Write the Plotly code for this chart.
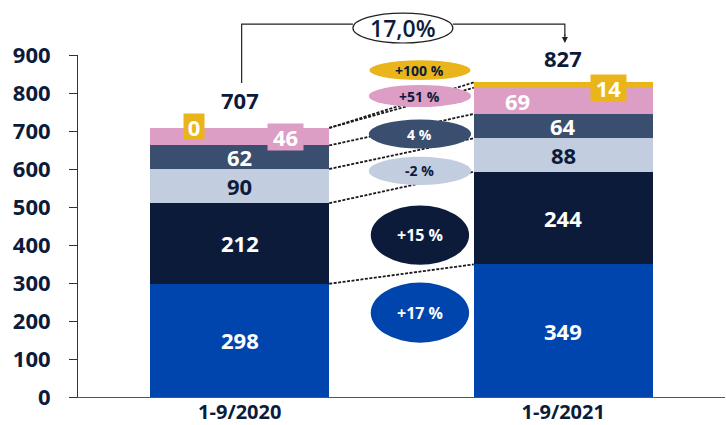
import plotly.graph_objects as go

# ---------------- data ----------------
periods = ["1-9/2020", "1-9/2021"]
seg_names = ["Segment 1", "Segment 2", "Segment 3", "Segment 4", "Segment 5", "Segment 6"]
seg1 = [298, 349]
seg2 = [212, 244]
seg3 = [90, 88]
seg4 = [62, 64]
seg5 = [46, 69]
seg6 = [0, 14]
totals = [707, 827]
total_change = "17,0%"
change_labels = ["+17 %", "+15 %", "-2 %", "4 %", "+51 %", "+100 %"]
y_ticks = [0, 100, 200, 300, 400, 500, 600, 700, 800, 900]

# ---------------- style ----------------
colors = ["#0045AD", "#0D1B3B", "#C3CDE0", "#3A4E6F", "#DC9EC4", "#E9B51B"]
label_colors = ["white", "white", "#0D1B3B", "white", "white", "white"]
dark = "#0D1B3B"
FONT = "Open Sans"
BAR_W = 0.553

series = [seg1, seg2, seg3, seg4, seg5, seg6]
xs = [0, 1]

fig = go.Figure()
for name, vals, col in zip(seg_names, series, colors):
    fig.add_trace(go.Bar(x=xs, y=vals, name=name, marker=dict(color=col, line=dict(width=0)),
                         width=BAR_W, showlegend=False, hoverinfo="skip"))

# cumulative tops
cum = []
run = [0, 0]
for vals in series:
    run = [run[i] + vals[i] for i in range(2)]
    cum.append(list(run))

annotations = []
shapes = []

# segment labels
for k, vals in enumerate(series):
    for i in range(2):
        base = cum[k][i] - vals[i]
        mid = base + vals[i] / 2
        xoff = 0
        bg = None
        if k == 4:  # pink
            if i == 0:
                xoff, bg = 0.14, colors[4]
            else:
                xoff = -0.14
        if k == 5:  # gold
            xoff = -0.14 if i == 0 else 0.14
            bg = colors[5]
        if k == 5 and i == 0:
            mid = cum[k][i] + 3
        if k == 5 and i == 1:
            mid = cum[k][i] - 16
        ann = dict(x=xs[i] + xoff, y=mid, xref="x", yref="y", text=str(vals[i]), showarrow=False,
                   xanchor="center", yanchor="middle",
                   font=dict(family=FONT, size=22, color=label_colors[k], weight="bold"))
        if bg:
            ann.update(bgcolor=bg, borderpad=0)
            if k == 5 and i == 0:
                ann.update(width=20, height=25)
            else:
                ann.update(width=35, height=26)
        annotations.append(ann)

# totals
total_y = [cum[-1][0] + 73, cum[-1][1] + 65]
for i in range(2):
    annotations.append(dict(x=xs[i], y=total_y[i], xref="x", yref="y", text=str(totals[i]),
                            showarrow=False, xanchor="center", yanchor="middle",
                            font=dict(family=FONT, size=22, color=dark, weight="bold")))

# dashed connector lines between bars
x_left = BAR_W / 2
x_right = 1 - BAR_W / 2
for k in range(len(series)):
    shapes.append(dict(type="line", xref="x", yref="y", x0=x_left, x1=x_right, y0=cum[k][0], y1=cum[k][1],
                       line=dict(color="#1a1a1a", width=1.8, dash="3px,1.5px"), layer="above"))

# change ellipses (center value, half-height in value units, half-width in x units)
ell_cx = 0.557
ell_pos = [(222, 79, 0.152), (426, 78, 0.152), (595, 37, 0.158), (692, 38, 0.158), (792, 29, 0.158), (860, 26, 0.156)]
ell_text_col = ["white", "white", dark, "white", dark, dark]
ell_size = [16, 16, 14, 14, 14, 14]
for k, (cy, hh, hw) in enumerate(ell_pos):
    shapes.append(dict(type="circle", xref="x", yref="y", x0=ell_cx - hw, x1=ell_cx + hw,
                       y0=cy - hh, y1=cy + hh, fillcolor=colors[k], line=dict(width=0), layer="above"))
    annotations.append(dict(x=ell_cx, y=cy, xref="x", yref="y", text=change_labels[k], showarrow=False,
                            xanchor="center", yanchor="middle",
                            font=dict(family=FONT, size=ell_size[k], color=ell_text_col[k], weight="bold")))

# overall change bubble above plot (paper y)
def py(px):
    return 1 + (55 - px) / 342.5

def dx(px):
    return (px - 239.8) / 323.6

shapes.append(dict(type="path", xref="x", yref="paper",
                   path=f"M {dx(241.7)},{py(83)} L {dx(241.7)},{py(24)} L {dx(353)},{py(24)}",
                   line=dict(color="#222222", width=1.2)))
shapes.append(dict(type="path", xref="x", yref="paper",
                   path=f"M {dx(453)},{py(24)} L {dx(565)},{py(24)} L {dx(565)},{py(36)}",
                   line=dict(color="#222222", width=1.2)))
shapes.append(dict(type="circle", xref="x", yref="paper", x0=dx(353), x1=dx(453), y0=py(43), y1=py(13),
                   fillcolor="white", line=dict(color="#222222", width=1.2), layer="above"))
annotations.append(dict(x=dx(403), y=py(28), xref="x", yref="paper", text=total_change, showarrow=False,
                        xanchor="center", yanchor="middle",
                        font=dict(family=FONT, size=23, color=dark, weight=600)))
annotations.append(dict(x=dx(565), y=py(43), xref="x", yref="paper", text="", showarrow=True,
                        ax=0, ay=-10, arrowhead=2, arrowsize=1, arrowwidth=1.2, arrowcolor="#222222"))

fig.update_layout(
    width=726, height=425,
    margin=dict(l=78, r=1, t=55, b=28),
    barmode="stack",
    plot_bgcolor="white", paper_bgcolor="white",
    showlegend=False,
    shapes=shapes, annotations=annotations,
    xaxis=dict(range=[-0.5, 1.5], tickvals=xs, ticktext=periods, showline=True, linecolor="#555555",
               linewidth=1.2, ticks="", showgrid=False, zeroline=False, automargin=False,
               ticklabelstandoff=-3,
               tickfont=dict(family=FONT, size=20, color=dark, weight="bold")),
    yaxis=dict(range=[0, 900], tickvals=y_ticks, showline=True, linecolor="#333333", linewidth=1,
               ticks="outside", ticklen=8, tickcolor="#333333", showgrid=False, zeroline=False,
               ticklabelstandoff=14, automargin=False,
               tickfont=dict(family=FONT, size=22, color=dark, weight="bold")),
)

fig.write_html("out.html", config={"displayModeBar": False},
               post_script="document.body.style.margin='0';")
